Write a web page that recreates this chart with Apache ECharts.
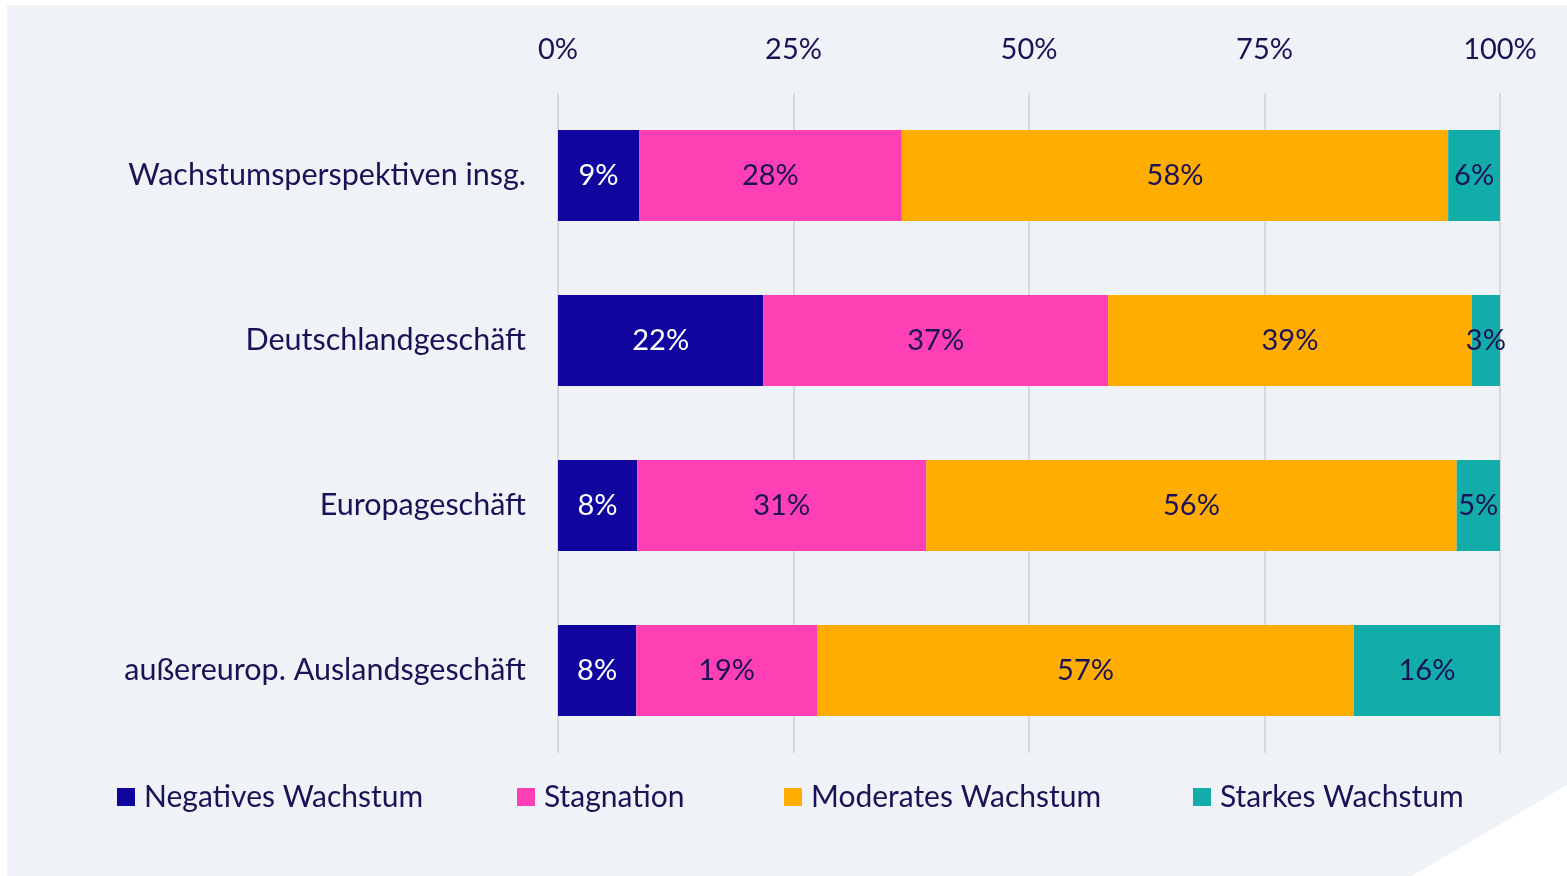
<!DOCTYPE html>
<html><head><meta charset="utf-8">
<script src="https://cdn.jsdelivr.net/npm/echarts@6/dist/echarts.min.js"></script>
<style>html,body{margin:0;padding:0;background:#fff}#c{width:1567px;height:876px}</style>
</head><body><div id="c"></div>
<script>
const categories = ['Wachstumsperspektiven insg.', 'Deutschlandgeschäft', 'Europageschäft', 'außereurop. Auslandsgeschäft'];
const seriesNames = ['Negatives Wachstum', 'Stagnation', 'Moderates Wachstum', 'Starkes Wachstum'];
const negativ = [8.6, 21.8, 8.4, 8.3];
const stagnation = [27.9, 36.6, 30.7, 19.2];
const moderat = [58.0, 38.6, 56.3, 57.0];
const stark = [5.5, 3.0, 4.6, 15.5];
const tickLabels = ['0%', '25%', '50%', '75%', '100%'];
const colors = ['#10069f', '#ff40b4', '#ffad00', '#12ada9'];
const labelColors = ['#ffffff', '#1a1256', '#1a1256', '#1a1256'];
const values = [negativ, stagnation, moderat, stark];
const FONT = 'Lato';
const TXT = '#1a1256';
const legendLeft = [117, 517, 784, 1193];

const chart = echarts.init(document.getElementById('c'));
chart.setOption({
  animation: false,
  backgroundColor: '#ffffff',
  graphic: [
    { type: 'rect', z: -10, shape: { x: 7, y: 5, width: 1560, height: 871 }, style: { fill: '#eff3f8' } },
    { type: 'polygon', z: -9, shape: { points: [[1412, 876], [1567, 785], [1567, 876]] }, style: { fill: '#ffffff' } }
  ],
  legend: seriesNames.map((n, i) => ({
    data: [n], left: legendLeft[i], top: 782, padding: 0, itemWidth: 18, itemHeight: 18, itemGap: 0,
    icon: 'rect', textStyle: { fontFamily: FONT, fontSize: 30, color: TXT, padding: [0, 0, 0, 4] }
  })),
  grid: { left: 558, right: 67, top: 93, height: 660 },
  xAxis: {
    type: 'value', position: 'top', min: 0, max: 100, interval: 25,
    axisLine: { show: false }, axisTick: { show: false },
    axisLabel: { margin: 29, fontFamily: FONT, fontSize: 29, color: TXT, formatter: v => tickLabels[v / 25] },
    splitLine: { lineStyle: { color: '#d6d9de', width: 2 } }
  },
  yAxis: {
    type: 'category', inverse: true, data: categories,
    axisLine: { show: false }, axisTick: { show: false },
    axisLabel: { margin: 32, fontFamily: FONT, fontSize: 30.5, color: TXT, padding: [5, 0, 0, 0] }
  },
  series: seriesNames.map((n, i) => ({
    name: n, type: 'bar', stack: 'total', data: values[i], barWidth: 91,
    itemStyle: { color: colors[i] },
    label: { show: true, position: 'inside', fontFamily: FONT, fontSize: 29, color: labelColors[i],
      padding: [7, 0, 0, 0], formatter: p => Math.round(p.value) + '%' }
  }))
});
</script></body></html>
